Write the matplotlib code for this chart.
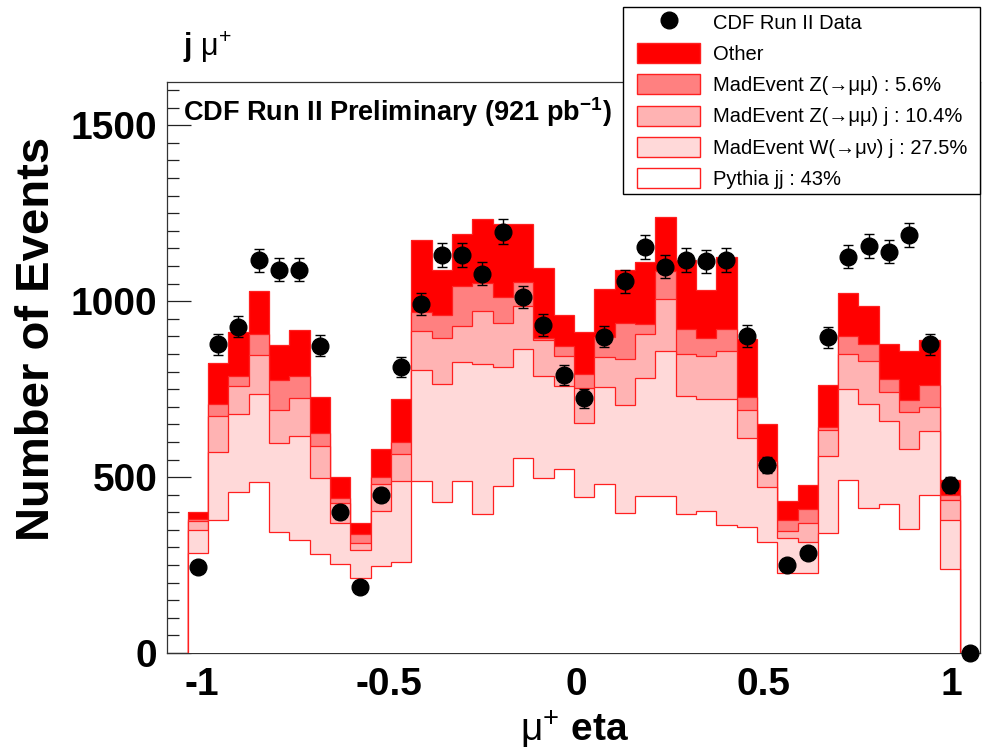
import numpy as np
import matplotlib
matplotlib.use('Agg')
from matplotlib import pyplot as plt
from matplotlib.patches import Patch, Rectangle
from matplotlib.lines import Line2D

plt.rcParams['font.family'] = ['Liberation Sans', 'DejaVu Sans']
plt.rcParams['mathtext.fontset'] = 'custom'
plt.rcParams['mathtext.rm'] = 'Liberation Sans'
plt.rcParams['mathtext.it'] = 'Liberation Sans:italic'
plt.rcParams['mathtext.bf'] = 'Liberation Sans:bold'

# histogram binning (mu+ eta)
eta_lo, eta_hi, nbins = -1.038, 1.024, 38

# stack components per bin (events)
pythia_jj = [283, 379, 458, 486, 343, 321, 281, 254, 212, 246, 260,
             489, 430, 489, 395, 475, 555, 496, 522, 442, 479,
             399, 447, 447, 395, 404, 363, 359, 315, 226, 226,
             340, 491, 411, 423, 352, 449, 238]
w_mu_nu_j = [68, 191, 221, 249, 255, 297, 217, 116, 81, 159, 229,
             315, 336, 337, 426, 337, 309, 292, 238, 213, 278,
             306, 334, 410, 335, 318, 358, 251, 156, 102, 90,
             220, 258, 296, 236, 228, 182, 140]
z_mumu_j = [24, 103, 81, 113, 93, 106, 90, 55, 20, 75, 78,
            111, 128, 104, 152, 125, 123, 102, 85, 98, 85,
            132, 125, 148, 119, 123, 136, 82, 64, 20, 53,
            74, 101, 122, 84, 105, 69, 57]
z_mumu = [5, 34, 28, 60, 84, 62, 36, 15, 25, 19, 32,
          55, 67, 114, 78, 74, 68, 5, 28, 41, 57,
          100, 29, 82, 71, 51, 63, 37, 10, 31, 41,
          7, 51, 49, 35, 34, 61, 14]
other = [21, 118, 125, 121, 101, 133, 104, 60, 32, 82, 123,
         204, 128, 146, 183, 207, 164, 199, 88, 117, 135,
         152, 176, 151, 197, 136, 205, 163, 106, 54, 67,
         121, 123, 107, 100, 138, 129, 42]

# CDF Run II data (one more bin than the MC stack)
data = [245, 878, 928, 1116, 1089, 1089, 874, 401, 188, 449, 814,
        992, 1132, 1132, 1078, 1198, 1011, 932, 790, 724, 899,
        1056, 1153, 1098, 1117, 1113, 1117, 901, 534, 251, 283,
        897, 1127, 1157, 1141, 1189, 878, 477, 0]

labels = ['Pythia jj : 43%', 'MadEvent W(\u2192\u03bc\u03bd) j : 27.5%',
          'MadEvent Z(\u2192\u03bc\u03bc) j : 10.4%', 'MadEvent Z(\u2192\u03bc\u03bc) : 5.6%', 'Other']
colors = ['white', '#ffd9d9', '#ffb3b3', '#ff8080', '#ff0000']

edges = np.linspace(eta_lo, eta_hi, nbins + 1)
bw = edges[1] - edges[0]
data = np.array(data, dtype=float)
data_x = eta_lo + bw * (np.arange(len(data)) + 0.5)

comps = np.array([pythia_jj, w_mu_nu_j, z_mumu_j, z_mumu, other], dtype=float)
cum = np.cumsum(comps, axis=0)

fig = plt.figure(figsize=(9.88, 7.52), dpi=100)
ax = fig.add_axes([167 / 988, 1 - 653 / 752, (980 - 167) / 988, (653 - 82) / 752])

for i in range(4, -1, -1):
    ax.stairs(cum[i], edges, baseline=0, fill=True, color=colors[i], lw=0, zorder=2 + (4 - i))
    ax.stairs(cum[i], edges, baseline=0, fill=False, color='#ff2020', lw=0.9, zorder=2 + (4 - i))

ax.errorbar(data_x, data, yerr=np.sqrt(data), fmt='o', color='black', ms=12,
            elinewidth=1, capsize=3.5, capthick=1, zorder=20, clip_on=False)

ax.set_xlim(-1.093, 1.077)
ax.set_ylim(0, 1623)
ax.set_xticks([-1, -0.5, 0, 0.5, 1])
ax.set_xticklabels(['-1', '-0.5', '0', '0.5', '1'])
ax.set_xticks(np.arange(-1.0, 1.05, 0.1), minor=True)
ax.set_yticks([0, 500, 1000, 1500])
ax.set_yticks(np.arange(0, 1601, 50), minor=True)
ax.tick_params(axis='both', which='both', direction='in', top=False, right=False, width=0.9, colors='#222222')
ax.tick_params(axis='y', which='major', length=17, pad=7)
ax.tick_params(axis='y', which='minor', length=8.5)
ax.tick_params(axis='x', which='major', length=13, pad=10)
ax.tick_params(axis='x', which='minor', length=6.5)
for lab in ax.get_xticklabels() + ax.get_yticklabels():
    lab.set_fontsize(28)
    lab.set_fontweight('bold')
    lab.set_color('black')
for sp in ax.spines.values():
    sp.set_linewidth(0.9)
    sp.set_color('#333333')

fig.text(37.5 / 988, 1 - 339 / 752, 'Number of Events', rotation=90, ha='center', va='center',
         fontsize=34, fontweight='bold')
fig.text(574 / 988, 1 - 741 / 752, r'$\mathrm{\mu}^{+}$ eta', ha='center', va='baseline',
         fontsize=28, fontweight='bold')
fig.text(183 / 988, 1 - 47 / 752, r'j $\mathrm{\mu}^{+}$', ha='left', va='center',
         fontsize=22, fontweight='bold')
fig.text(183 / 988, 1 - 112 / 752, r'CDF Run II Preliminary (921 pb$^{\mathbf{-1}}$)', ha='left',
         va='center', fontsize=19.5, fontweight='bold')

# legend
handles = [Line2D([], [], marker='o', color='black', ls='none', ms=12)]
leg_labels = ['CDF Run II Data']
for i in range(4, -1, -1):
    handles.append(Patch(facecolor=colors[i], edgecolor='#ff2020', lw=1))
    leg_labels.append(labels[i])
fig.legend(handles, leg_labels, loc='upper left', bbox_to_anchor=(637 / 988, 1 - 12 / 752),
           frameon=False, borderpad=0, borderaxespad=0, fontsize=14.5, handlelength=3.13,
           handleheight=1.14, handletextpad=0.64, labelspacing=0.52)
fig.patches.append(Rectangle((623 / 988, 1 - 194 / 752), (980 - 623) / 988, (194 - 7) / 752,
                             transform=fig.transFigure, fill=True, facecolor='white',
                             edgecolor='black', lw=1, zorder=0.5))

fig.savefig('out.png', dpi=100)
